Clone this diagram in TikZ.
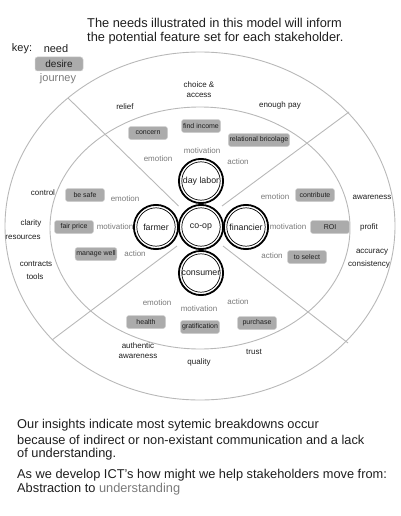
\documentclass[tikz,border=0pt]{standalone}
\usepackage{fontspec}
\setmainfont{Liberation Sans}
\definecolor{ringgray}{HTML}{B8B8B8}
\definecolor{boxgray}{HTML}{ABABAB}
\definecolor{boxedge}{HTML}{CFCFCF}
\definecolor{labgray}{HTML}{7A7A7A}
\definecolor{ink}{HTML}{1E1E1E}
\begin{document}
\begin{tikzpicture}[x=1pt,y=-1pt,
  ring/.style={draw=ringgray, line width=0.9pt},
  divider/.style={draw=ringgray, line width=0.9pt},
  lbl/.style={font=\fontsize{8}{10}\selectfont, text=ink, inner sep=0pt, align=center},
  glbl/.style={font=\fontsize{8}{9}\selectfont, text=labgray, inner sep=0pt},
  wish/.style={fill=boxgray, draw=boxedge, line width=0.5pt, rounded corners=2.5pt,
    minimum width=39pt, minimum height=13pt, inner sep=1.2pt, text=ink,
    font=\fontsize{7}{8}\selectfont},
  actor/.style={circle, draw=black, line width=1.8pt, fill=white, minimum size=44.2pt,
    inner sep=0pt, text=ink, font=\fontsize{8.8}{9}\selectfont},
  inring/.style={draw=black, line width=0.7pt},
  big/.style={font=\fontsize{12.8}{15}\selectfont, text=ink, inner sep=0pt, anchor=west},
  keytxt/.style={font=\fontsize{11}{13}\selectfont, text=ink, inner sep=0pt}
]
\useasboundingbox (0,0) rectangle (400,516);

% title
\node[big] (t1) at (87,23) {The needs illustrated in this model will inform};
\node[big] (t2) at (87,38) {the potential feature set for each stakeholder.};

% key
\node[keytxt] (key) at (22,49) {key:};
\node[keytxt] (kneed) at (56,49) {need};
\node[wish, minimum width=48pt, minimum height=14pt, font=\fontsize{10}{12}\selectfont] (kdesire) at (59,64) {desire};
\node[keytxt, text=labgray] (kjourney) at (58,79) {journey};

% rings
\draw[ring] (200,226) ellipse [x radius=195pt, y radius=174pt];
\draw[ring] (200,228) ellipse [x radius=150pt, y radius=121pt];

% dividers
\coordinate (ulA) at (178.5,206);
\coordinate (ulB) at (68,98);
\coordinate (urA) at (222,206);
\coordinate (urB) at (349,112);
\coordinate (llA) at (177,246);
\coordinate (llB) at (52,340);
\coordinate (lrA) at (223,246);
\coordinate (lrB) at (348,343);
\draw[divider] (ulA) -- (ulB);
\draw[divider] (urA) -- (urB);
\draw[divider] (llA) -- (llB);
\draw[divider] (lrA) -- (lrB);

% stakeholders
\node[actor] (coop) at (201,227) {co-op};
\node[actor] (labor) at (201,181) {day labor};
\node[actor] (consumer) at (201,273) {consumer};
\node[actor] (farmer) at (156,227) {farmer};
\node[actor] (financier) at (246,227) {financier};
\foreach \n in {coop,labor,consumer,farmer,financier}
  \draw[inring] (\n.center) circle (19.2pt);

% outer ring needs
\node[lbl] (choice) at (199,90) {choice \&\\access};
\node[lbl] (relief) at (125,107) {relief};
\node[lbl] (pay) at (280,105) {enough pay};
\node[lbl] (control) at (43,193) {control};
\node[lbl] (clarity) at (31,223) {clarity};
\node[lbl] (resources) at (23,237) {resources};
\node[lbl] (contracts) at (36,264) {contracts};
\node[lbl] (tools) at (35,277) {tools};
\node[lbl] (awareR) at (372,197) {awareness};
\node[lbl] (profit) at (369,227) {profit};
\node[lbl] (accuracy) at (372,252) {accuracy};
\node[lbl] (consist) at (369,264) {consistency};
\node[lbl] (authentic) at (138,351) {authentic\\awareness};
\node[lbl] (quality) at (199,362) {quality};
\node[lbl] (trust) at (254,352) {trust};

% journey labels
\node[glbl] (eT) at (158,159) {emotion};
\node[glbl] (mT) at (202,151) {motivation};
\node[glbl] (aT) at (238,162) {action};
\node[glbl] (eL) at (125,199) {emotion};
\node[glbl] (mL) at (115,227) {motivation};
\node[glbl] (aL) at (135,254) {action};
\node[glbl] (eR) at (275,197) {emotion};
\node[glbl] (mR) at (288,227) {motivation};
\node[glbl] (aR) at (272,256) {action};
\node[glbl] (eB) at (157,303) {emotion};
\node[glbl] (mB) at (199,309) {motivation};
\node[glbl] (aB) at (238,302) {action};

% desires
\node[wish] (concern) at (148,133) {concern};
\node[wish] (income) at (201,126) {find income};
\node[wish] (brico) at (259,140) {relational bricolage};
\node[wish] (safe) at (85,195) {be safe};
\node[wish] (fair) at (74,227) {fair price};
\node[wish] (manage) at (96,254) {manage well};
\node[wish] (contrib) at (315,195) {contribute};
\node[wish] (roi) at (330,227) {ROI};
\node[wish] (select) at (307,257) {to select};
\node[wish] (health) at (146,322) {health};
\node[wish] (grat) at (200,327) {gratification};
\node[wish] (purchase) at (257,323) {purchase};

% bottom text
\node[big] (b1) at (17,425) {Our insights indicate most sytemic breakdowns occur};
\node[big] (b2) at (17,440) {because of indirect or non-existant communication and a lack};
\node[big] (b3) at (17,454) {of understanding.};
\node[big] (b4) at (17,475) {As we develop ICT's how might we help stakeholders move from:};
\node[big] (b5) at (17,489) {Abstraction to \textcolor{labgray}{understanding}};
\end{tikzpicture}
\end{document}
